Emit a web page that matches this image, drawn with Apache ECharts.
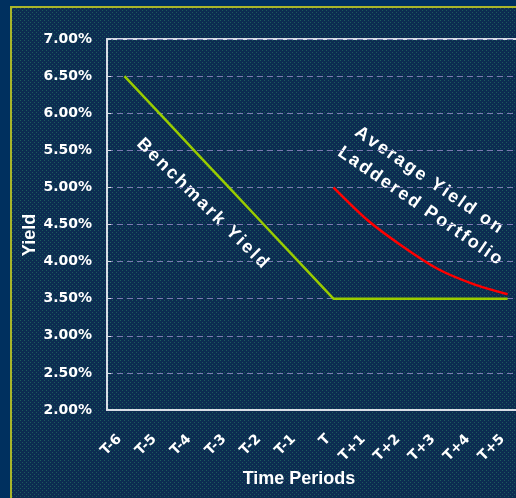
<!DOCTYPE html>
<html>
<head>
<meta charset="utf-8">
<style>
  html, body { margin: 0; padding: 0; background: #00305f; }
  #chart { width: 516px; height: 498px; }
</style>
<script src="https://cdn.jsdelivr.net/npm/echarts@6/dist/echarts.min.js"></script>
</head>
<body>
<div id="chart"></div>
<script>
// Time periods on the horizontal axis
const periods = ['T-6', 'T-5', 'T-4', 'T-3', 'T-2', 'T-1', 'T', 'T+1', 'T+2', 'T+3', 'T+4', 'T+5'];
// Benchmark yield (%) falls steadily, then holds flat
const benchmarkYield = [6.5, 6.0, 5.5, 5.0, 4.5, 4.0, 3.5, 3.5, 3.5, 3.5, 3.5, 3.5];
// Average yield (%) on the laddered portfolio, starting at T
const ladderedYield = [null, null, null, null, null, null, 5.0, 4.55, 4.2, 3.9, 3.7, 3.56];
// Yield axis range and step (%)
const yieldMin = 2.0;
const yieldMax = 7.0;
const yieldStep = 0.5;

// Dotted panel texture
function makeTexture() {
  const c = document.createElement('canvas');
  c.width = 4; c.height = 4;
  const g = c.getContext('2d');
  g.fillStyle = '#0c2c51';
  g.fillRect(0, 0, 4, 4);
  g.fillStyle = '#1c5a5c';
  g.fillRect(0, 0, 1, 1);
  g.fillRect(2, 2, 1, 1);
  return c;
}

// Letter-spaced rotated caption built from single glyphs
const measureCtx = document.createElement('canvas').getContext('2d');
function spacedCaption(str, cx, cy, deg, size, length) {
  const font = 'bold ' + size + 'px "Liberation Sans", Arial, sans-serif';
  measureCtx.font = font;
  const chars = str.split('');
  const widths = chars.map(ch => measureCtx.measureText(ch).width);
  const sum = widths.reduce((a, b) => a + b, 0);
  const gap = (length - sum) / (chars.length - 1);
  let x = -length / 2;
  const children = chars.map((ch, i) => {
    const el = {
      type: 'text',
      x: x,
      y: 0,
      style: {
        text: ch, font: font, fill: '#ffffff',
        align: 'left', verticalAlign: 'middle',
        textAlign: 'left', textVerticalAlign: 'middle'
      }
    };
    x += widths[i] + gap;
    return el;
  });
  // negative rotation turns the caption clockwise (reading down to the right)
  return { type: 'group', x: cx, y: cy, rotation: -deg * Math.PI / 180, children: children, z: 10 };
}

function plainText(str, cx, cy, deg, size) {
  return {
    type: 'text', x: cx, y: cy, rotation: deg * Math.PI / 180, z: 10,
    style: {
      text: str, font: 'bold ' + size + 'px "Liberation Sans", Arial, sans-serif', fill: '#ffffff',
      align: 'center', verticalAlign: 'middle',
      textAlign: 'center', textVerticalAlign: 'middle'
    }
  };
}

const chart = echarts.init(document.getElementById('chart'), null, { renderer: 'canvas' });

const option = {
  backgroundColor: '#00305f',
  animation: false,
  graphic: [
    {
      type: 'rect', z: -10, silent: true,
      shape: { x: 11, y: 7, width: 520, height: 500 },
      style: { fill: { image: makeTexture(), repeat: 'repeat' }, stroke: '#a9b52a', lineWidth: 2 }
    },
    plainText('Yield', 30, 235, 90, 18),
    plainText('Time Periods', 299, 479, 0, 18),
    spacedCaption('Benchmark Yield', 202.5, 203.3, 44.6, 18, 177),
    spacedCaption('Average Yield on', 428.7, 180, 34.5, 18, 175),
    spacedCaption('Laddered Portfolio', 420, 205.8, 34.5, 18, 195)
  ],
  grid: {
    left: 107, top: 39, width: 418, height: 371,
    outerBoundsMode: 'none', containLabel: false,
    show: true, borderColor: '#d8dde6', borderWidth: 2, backgroundColor: 'transparent'
  },
  xAxis: {
    type: 'category',
    data: periods,
    boundaryGap: true,
    axisLine: { show: true, lineStyle: { color: '#d8dde6', width: 2 } },
    axisTick: { show: false },
    axisLabel: {
      rotate: 45, margin: 22, padding: [0, 7, 0, 0], color: '#ffffff',
      fontFamily: 'DejaVu Sans', fontWeight: 'bold', fontSize: 14
    },
    splitLine: { show: false }
  },
  yAxis: {
    type: 'value',
    min: yieldMin, max: yieldMax, interval: yieldStep,
    axisLine: { show: true, lineStyle: { color: '#d8dde6', width: 2 } },
    axisTick: { show: true, inside: true, length: 4, lineStyle: { color: '#d8dde6', width: 1 } },
    axisLabel: {
      margin: 15, color: '#ffffff',
      fontFamily: 'DejaVu Sans', fontWeight: 'bold', fontSize: 14,
      formatter: v => v.toFixed(2) + '%'
    },
    splitLine: { show: true, lineStyle: { color: '#7a7cb0', type: [6, 4], width: 1 } }
  },
  series: [
    {
      name: 'Benchmark Yield', type: 'line', data: benchmarkYield,
      symbol: 'none', lineStyle: { color: '#99cc00', width: 2.5 }, z: 3
    },
    {
      name: 'Average Yield on Laddered Portfolio', type: 'line', data: ladderedYield,
      symbol: 'none', smooth: 0.3, connectNulls: false,
      lineStyle: { color: '#ff0000', width: 2.5 }, z: 4
    }
  ]
};

chart.setOption(option);
</script>
</body>
</html>
